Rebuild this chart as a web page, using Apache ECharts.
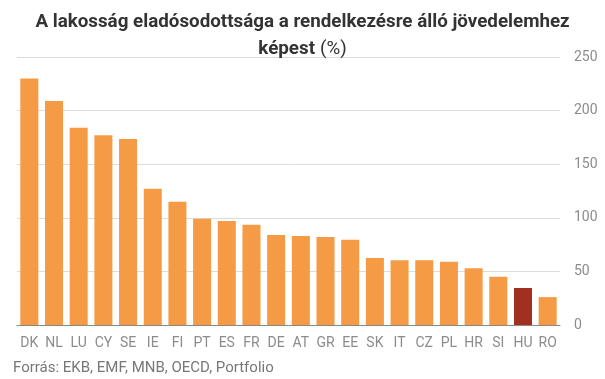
<!DOCTYPE html>
<html>
<head>
<meta charset="utf-8">
<script src="https://cdn.jsdelivr.net/npm/echarts@6/dist/echarts.min.js"></script>
<style>html,body{margin:0;padding:0;background:#fff}#c{width:605px;height:379px}</style>
</head>
<body>
<div id="c"></div>
<script>
const categories = ['DK','NL','LU','CY','SE','IE','FI','PT','ES','FR','DE','AT','GR','EE','SK','IT','CZ','PL','HR','SI','HU','RO'];
const values = [230, 209, 184, 177, 173.5, 127, 115, 99, 97, 93.5, 84, 83, 82, 79.5, 62.5, 60.5, 60.5, 59, 53, 45, 34.5, 26];
const highlight = 'HU';
const yTicks = [0, 50, 100, 150, 200, 250];

const chart = echarts.init(document.getElementById('c'), null, {renderer: 'canvas'});
chart.setOption({
  animation: false,
  title: {
    text: '{b|A lakosság eladósodottsága a rendelkezésre álló jövedelemhez}\n{b|képest} {n|(%)}',
    left: 'center',
    top: 4,
    textStyle: {
      rich: {
        b: {fontFamily: 'Roboto', fontWeight: 'bold', fontSize: 18.8, color: '#333', lineHeight: 27},
        n: {fontFamily: 'Roboto', fontWeight: 'normal', fontSize: 18.8, color: '#333', lineHeight: 27}
      }
    }
  },
  grid: {left: 17, right: 45, top: 57, bottom: 54},
  xAxis: {
    type: 'category',
    data: categories,
    axisTick: {show: false},
    axisLine: {lineStyle: {color: '#888', width: 1}},
    axisLabel: {color: '#8c8c8c', fontFamily: 'Roboto', fontSize: 14, margin: 11, interval: 0}
  },
  yAxis: {
    type: 'value',
    position: 'right',
    min: yTicks[0],
    max: yTicks[yTicks.length - 1],
    interval: 50,
    axisLine: {show: false},
    axisTick: {show: false},
    splitLine: {lineStyle: {color: '#dcdcdc', width: 1}},
    axisLabel: {color: '#8c8c8c', fontFamily: 'Roboto', fontSize: 14, margin: 14}
  },
  series: [{
    type: 'bar',
    barCategoryGap: '27%',
    data: values.map((v, i) => ({
      value: v,
      itemStyle: {color: categories[i] === highlight ? '#a23021' : '#f59b45'}
    }))
  }],
  graphic: [{
    type: 'text',
    left: 13,
    top: 361,
    style: {text: 'Forrás: EKB, EMF, MNB, OECD, Portfolio', fill: '#777', font: '15px Roboto'}
  }]
});
</script>
</body>
</html>
